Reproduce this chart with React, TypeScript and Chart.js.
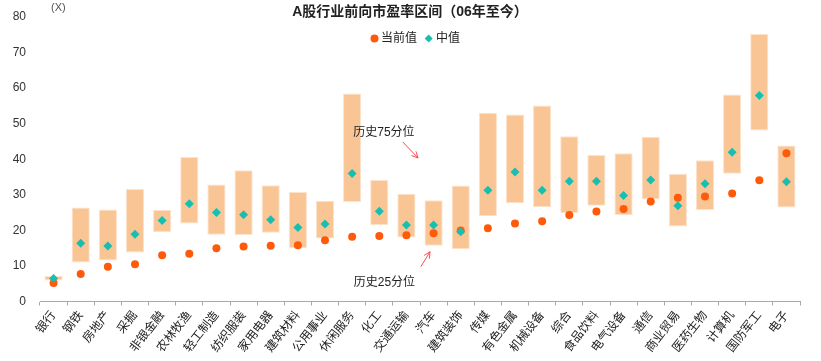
import React, { useEffect, useRef } from "react";
import { Chart, registerables } from "chart.js";

Chart.register(...registerables);

const categories = ["银行","钢铁","房地产","采掘","非银金融","农林牧渔","轻工制造","纺织服装","家用电器","建筑材料","公用事业","休闲服务","化工","交通运输","汽车","建筑装饰","传媒","有色金属","机械设备","综合","食品饮料","电气设备","通信","商业贸易","医药生物","计算机","国防军工","电子"];
const p25 = [5.9,11.0,11.5,13.8,19.5,21.9,18.8,18.7,19.3,15.0,17.7,28.0,21.5,18.0,15.7,14.7,24.0,27.6,26.5,24.8,26.9,24.3,28.7,21.1,25.7,35.9,48.1,26.4];
const p75 = [7.2,26.4,25.9,31.6,25.8,40.6,32.9,36.9,32.7,30.8,28.3,58.5,34.2,30.3,28.5,32.6,53.1,52.6,55.1,46.5,41.2,41.7,46.3,35.9,39.7,58.2,75.2,43.9];
const medianVals = [6.5,16.4,15.6,18.9,22.8,27.5,25.0,24.4,23.0,20.8,21.8,36.0,25.4,21.5,21.5,19.6,31.3,36.4,31.3,33.8,33.8,29.8,34.2,26.9,33.1,42.0,57.9,33.7];
const currentVals = [5.2,7.7,9.8,10.5,13.0,13.4,15.0,15.5,15.7,15.8,17.2,18.2,18.4,18.6,19.2,20.0,20.6,21.9,22.6,24.3,25.3,26.0,28.1,29.2,29.5,30.4,34.1,41.7];
const yTicks = [0, 10, 20, 30, 40, 50, 60, 70, 80];

const TITLE = "A股行业前向市盈率区间（06年至今）";
const UNIT = "(X)";
const note75 = { text: "历史75分位", x: 12.17, y: 47.5, ax1: 12.86, ay1: 44.9, ax2: 13.43, ay2: 40.35 };
const note25 = { text: "历史25分位", x: 12.19, y: 5.3, ax1: 13.53, ay1: 9.8, ax2: 13.87, ay2: 14.0 };

const FONT = "'Liberation Sans', 'Noto Sans CJK SC', sans-serif";
const BAR = "#F9C594";
const DOT = "#FF5A0A";
const DIA = "#17BFB0";

function drawArrow(ctx: CanvasRenderingContext2D, x1: number, y1: number, x2: number, y2: number) {
  ctx.save();
  ctx.strokeStyle = "#FF4B4B";
  ctx.lineWidth = 1;
  ctx.beginPath();
  ctx.moveTo(x1, y1);
  ctx.lineTo(x2, y2);
  const ang = Math.atan2(y2 - y1, x2 - x1);
  const L = 7;
  ctx.moveTo(x2, y2);
  ctx.lineTo(x2 - L * Math.cos(ang - 0.45), y2 - L * Math.sin(ang - 0.45));
  ctx.moveTo(x2, y2);
  ctx.lineTo(x2 - L * Math.cos(ang + 0.45), y2 - L * Math.sin(ang + 0.45));
  ctx.stroke();
  ctx.restore();
}

const overlay = {
  id: "overlay",
  afterDraw(chart: any) {
    const ctx: CanvasRenderingContext2D = chart.ctx;
    const xs = chart.scales.x;
    const ys = chart.scales.y;
    const cx = (v: number) => xs.left + (xs.right - xs.left) * (v + 0.5) / categories.length;
    ctx.save();
    ctx.fillStyle = "#222";
    ctx.font = `bold 14px ${FONT}`;
    ctx.textAlign = "center";
    ctx.textBaseline = "middle";
    ctx.fillText(TITLE, 410, 12);
    ctx.font = `11px ${FONT}`;
    ctx.fillStyle = "#555";
    ctx.textAlign = "left";
    ctx.fillText(UNIT, 51, 8);
    const ly = 38.5;
    ctx.font = `12px ${FONT}`;
    ctx.fillStyle = DOT;
    ctx.beginPath();
    ctx.arc(374.5, ly, 4, 0, Math.PI * 2);
    ctx.fill();
    ctx.fillStyle = "#222";
    ctx.fillText(chart.data.datasets[1].label, 381, ly);
    ctx.fillStyle = DIA;
    ctx.beginPath();
    ctx.moveTo(428.7, ly - 4);
    ctx.lineTo(432.7, ly);
    ctx.lineTo(428.7, ly + 4);
    ctx.lineTo(424.7, ly);
    ctx.closePath();
    ctx.fill();
    ctx.fillStyle = "#222";
    ctx.fillText(chart.data.datasets[2].label, 436, ly);
    ctx.font = `12px ${FONT}`;
    ctx.textAlign = "center";
    for (const n of [note75, note25]) {
      ctx.fillStyle = "#222";
      ctx.fillText(n.text, cx(n.x), ys.getPixelForValue(n.y));
      drawArrow(ctx, cx(n.ax1), ys.getPixelForValue(n.ay1), cx(n.ax2), ys.getPixelForValue(n.ay2));
    }
    ctx.restore();
  },
};

export default function App() {
  const ref = useRef<HTMLCanvasElement | null>(null);
  useEffect(() => {
    if (!ref.current) return;
    const chart = new Chart(ref.current, {
      type: "bar",
      data: {
        labels: categories,
        datasets: [
          {
            type: "bar",
            label: "区间",
            data: p25.map((lo, i) => [lo, p75[i]]) as any,
            backgroundColor: BAR,
            borderColor: "#FDE3CC",
            borderWidth: 1,
            borderSkipped: false,
            barPercentage: 0.67,
            categoryPercentage: 1,
            order: 3,
          },
          {
            type: "line",
            label: "当前值",
            data: currentVals,
            showLine: false,
            pointStyle: "circle",
            pointRadius: 4,
            pointBackgroundColor: DOT,
            pointBorderWidth: 0,
            order: 2,
          },
          {
            type: "line",
            label: "中值",
            data: medianVals,
            showLine: false,
            pointStyle: "rectRot",
            pointRadius: 4.5,
            pointBackgroundColor: DIA,
            pointBorderWidth: 0,
            order: 1,
          },
        ],
      },
      options: {
        animation: false,
        responsive: false,
        layout: { padding: { top: 17, right: 21, left: 0, bottom: 0 } },
        plugins: {
          legend: { display: false },
          title: { display: false },
          tooltip: { enabled: false },
        },
        scales: {
          x: {
            type: "category",
            offset: true,
            grid: {
              display: true,
              offset: true,
              drawOnChartArea: false,
              drawTicks: true,
              tickLength: 4,
              color: "#A8A8A8",
            },
            border: { display: true, color: "#A8A8A8", width: 1 },
            ticks: {
              color: "#222",
              font: { size: 12, family: FONT },
              minRotation: 52,
              maxRotation: 52,
              autoSkip: false,
              padding: 3,
            },
            afterFit: (s: any) => { s.height = 59.5; },
          },
          y: {
            min: 0,
            max: 80,
            afterBuildTicks: (s: any) => { s.ticks = yTicks.map((v) => ({ value: v })); },
            grid: { display: false },
            border: { display: false },
            ticks: {
              color: "#333",
              font: { size: 12, family: FONT },
              padding: 6,
            },
            afterFit: (s: any) => { s.width = 40; },
          },
        },
      },
      plugins: [overlay],
    });
    return () => chart.destroy();
  }, []);
  return (
    <div style={{ position: "fixed", left: 0, top: 0, width: 821, height: 361, background: "#fff" }}>
      <canvas ref={ref} width={821} height={361} style={{ width: 821, height: 361 }} />
    </div>
  );
}
